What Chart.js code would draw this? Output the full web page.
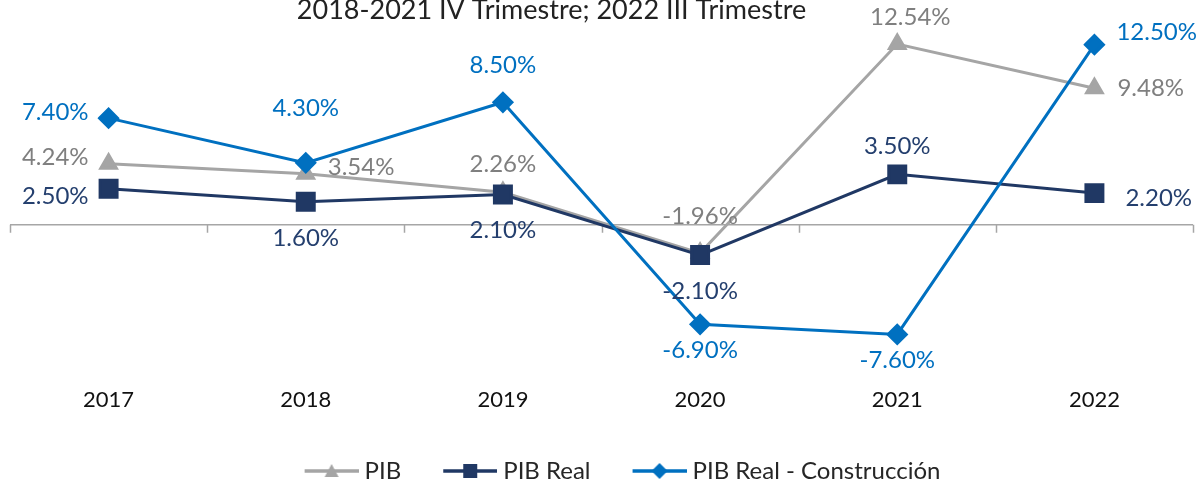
<!DOCTYPE html>
<html>
<head>
<meta charset="utf-8">
<script src="https://cdn.jsdelivr.net/npm/chart.js@4.4.0/dist/chart.umd.min.js"></script>
<style>
  html, body { margin: 0; padding: 0; background: #fff; }
  #wrap { width: 1199px; height: 488px; }
</style>
</head>
<body>
<div id="wrap"><canvas id="myChart"></canvas></div>
<script>
// data
const years = ['2017', '2018', '2019', '2020', '2021', '2022'];
const pib = [4.24, 3.54, 2.26, -1.96, 12.54, 9.48];
const pibReal = [2.50, 1.60, 2.10, -2.10, 3.50, 2.20];
const construccion = [7.40, 4.30, 8.50, -6.90, -7.60, 12.50];
const chartTitle = '2018-2021 IV Trimestre; 2022 III Trimestre';

// where each value label sits relative to its point
const pibLabelPos = ['wn', 'en', 'n', 'n2', 'nr', 'e'];
const realLabelPos = ['ws', 's', 's', 's', 'n', 'e2'];
const consLabelPos = ['wn', 'n3', 'n2', 's2', 's2', 'ne'];

const FONT = 'Lato, "Noto Sans", sans-serif';

// little line+marker pictures for the legend (blank strip on the left gives item spacing)
function legendIcon(color, style) {
  const lead = 48;
  const c = document.createElement('canvas');
  c.width = lead + 54; c.height = 20;
  const g = c.getContext('2d');
  g.strokeStyle = color;
  g.lineWidth = 3.5;
  g.beginPath(); g.moveTo(lead, 10); g.lineTo(lead + 54, 10); g.stroke();
  g.fillStyle = color;
  const m = lead + 27;
  g.beginPath();
  if (style === 'triangle') {
    g.moveTo(m, 3); g.lineTo(m + 7, 16); g.lineTo(m - 7, 16);
  } else if (style === 'rect') {
    g.rect(m - 7, 3, 14, 14);
  } else {
    g.moveTo(m, 2); g.lineTo(m + 8, 10); g.lineTo(m, 18); g.lineTo(m - 8, 10);
  }
  g.closePath(); g.fill();
  return c;
}

// title drawn a bit left of centre, like the original
const titlePlugin = {
  id: 'titlePlugin',
  afterDraw(chart) {
    const { ctx, chartArea } = chart;
    ctx.save();
    ctx.font = '27px ' + FONT;
    ctx.fillStyle = '#222';
    ctx.textAlign = 'center';
    ctx.textBaseline = 'alphabetic';
    ctx.fillText(chartTitle, (chartArea.left + chartArea.right) / 2 - 50, 19);
    ctx.restore();
  }
};

// zero line with little tick marks between categories
const zeroAxis = {
  id: 'zeroAxis',
  beforeDatasetsDraw(chart) {
    const { ctx, scales: { x, y } } = chart;
    const y0 = y.getPixelForValue(0);
    const step = (x.right - x.left) / years.length;
    ctx.save();
    ctx.strokeStyle = '#A6A6A6';
    ctx.lineWidth = 1.5;
    ctx.beginPath();
    ctx.moveTo(x.left, y0);
    ctx.lineTo(x.right, y0);
    for (let i = 0; i <= years.length; i++) {
      const px = Math.round(x.left + i * step) + 0.5;
      ctx.moveTo(px, y0);
      ctx.lineTo(px, y0 + 8);
    }
    ctx.stroke();
    ctx.restore();
  }
};

// label offsets: [dx, dy, align]
const labelOffsets = {
  n: [0, -28, 'center'],
  nr: [13, -27, 'center'],
  n2: [0, -37, 'center'],
  n3: [0, -55, 'center'],
  s: [0, 36, 'center'],
  s2: [0, 26, 'center'],
  wn: [-20, -6, 'right'],
  ws: [-20, 7, 'right'],
  e: [23, 0, 'left'],
  en: [22, -7, 'left'],
  e2: [31, 5, 'left'],
  ne: [22, -12, 'left']
};

// value labels
const valueLabels = {
  id: 'valueLabels',
  afterDatasetsDraw(chart) {
    const { ctx } = chart;
    ctx.save();
    ctx.font = '24px ' + FONT;
    ctx.textBaseline = 'middle';
    chart.data.datasets.forEach((ds, di) => {
      const meta = chart.getDatasetMeta(di);
      meta.data.forEach((pt, i) => {
        const txt = ds.data[i].toFixed(2) + '%';
        const off = labelOffsets[ds.labelPos[i]];
        ctx.textAlign = off[2];
        ctx.fillStyle = ds.labelColor;
        ctx.fillText(txt, pt.x + off[0], pt.y + off[1]);
      });
    });
    ctx.restore();
  }
};

const ctx = document.getElementById('myChart').getContext('2d');
new Chart(ctx, {
  type: 'line',
  data: {
    labels: years,
    datasets: [{
      label: 'PIB',
      data: pib,
      borderColor: '#A5A5A5',
      backgroundColor: '#A5A5A5',
      borderWidth: 3,
      pointStyle: 'triangle',
      pointRadius: 9,
      labelColor: '#7F7F7F',
      labelPos: pibLabelPos,
      icon: legendIcon('#A5A5A5', 'triangle'),
      order: 2
    }, {
      label: 'PIB Real',
      data: pibReal,
      borderColor: '#203864',
      backgroundColor: '#203864',
      borderWidth: 3,
      pointStyle: 'rect',
      pointRadius: 12,
      labelColor: '#243F6E',
      labelPos: realLabelPos,
      icon: legendIcon('#203864', 'rect'),
      order: 1
    }, {
      label: 'PIB Real - Construcción',
      data: construccion,
      borderColor: '#0070C0',
      backgroundColor: '#0070C0',
      borderWidth: 3,
      pointStyle: 'rectRot',
      pointRadius: 9,
      labelColor: '#0070C0',
      labelPos: consLabelPos,
      icon: legendIcon('#0070C0', 'rectRot'),
      order: 0
    }]
  },
  options: {
    responsive: true,
    maintainAspectRatio: false,
    animation: false,
    layout: { padding: { left: 10, right: 6, top: 23, bottom: -5 }, autoPadding: false },
    plugins: {
      title: { display: false },
      legend: {
        position: 'bottom',
        labels: {
          usePointStyle: true,
          pointStyleWidth: 90,
          color: '#262626',
          font: { family: FONT, size: 24 },
          padding: 0,
          generateLabels(chart) {
            return chart.data.datasets.map((ds, i) => ({
              text: ds.label,
              pointStyle: ds.icon,
              fillStyle: ds.borderColor,
              strokeStyle: ds.borderColor,
              lineWidth: 0,
              fontColor: '#262626',
              datasetIndex: i,
              hidden: false
            }));
          }
        }
      },
      tooltip: { enabled: false }
    },
    scales: {
      x: {
        offset: true,
        grid: { display: false },
        border: { display: false },
        ticks: { color: '#111', font: { family: FONT, size: 22 }, padding: 10 },
        afterFit(s) { s.height = 90; }
      },
      y: {
        display: false,
        min: -10,
        max: 14
      }
    }
  },
  plugins: [zeroAxis, valueLabels, titlePlugin]
});
</script>
</body>
</html>
